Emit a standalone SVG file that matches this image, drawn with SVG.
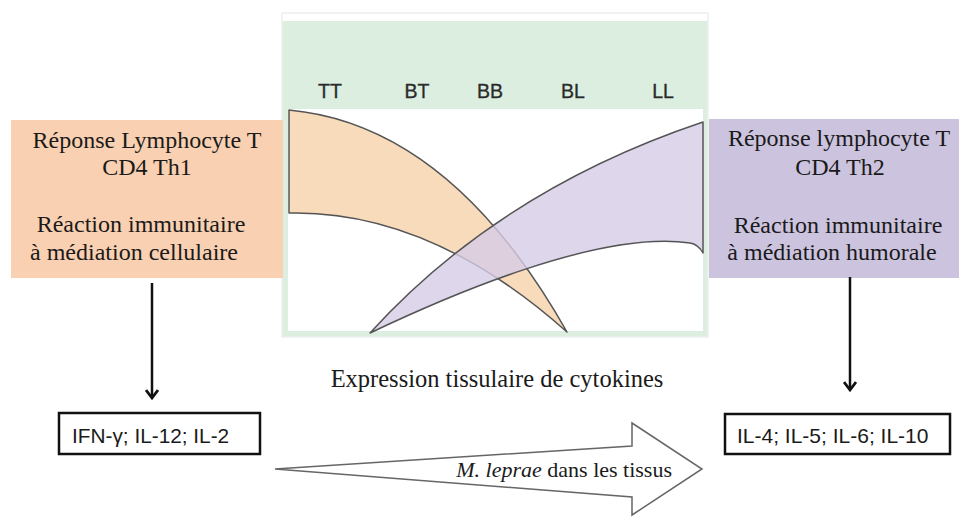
<svg xmlns="http://www.w3.org/2000/svg" width="959" height="517" viewBox="0 0 959 517">
<defs>
<style>
.serif{font-family:"Liberation Serif","Times New Roman",serif;fill:#1a1a1a;}
.sans{font-family:"Liberation Sans",Arial,sans-serif;fill:#1a1a1a;}
.lbl{font-family:"Liberation Sans",Arial,sans-serif;fill:#2a2a2a;stroke:#2a2a2a;stroke-width:0.3;}
.band{stroke:#555;stroke-width:1.5;stroke-linejoin:round;}
.box{fill:#fff;stroke:#111;stroke-width:2.5;}
.conn{stroke:#111;stroke-width:2.5;fill:none;}
</style>
<marker id="ah" markerWidth="14" markerHeight="14" refX="11" refY="7" orient="auto" markerUnits="userSpaceOnUse" viewBox="0 0 14 14">
<path d="M3,1 L11,7 L3,13" fill="none" stroke="#111" stroke-width="2.8"/>
</marker>
</defs>
<rect width="959" height="517" fill="#fff"/>

<g id="panel">
<rect x="282" y="13" width="426" height="324" fill="#fff" stroke="#e6e6e6" stroke-width="1"/>
<rect x="282.5" y="21" width="425" height="315.5" fill="#dbeee0"/>
<rect x="288" y="109" width="415" height="222" fill="#fff"/>
<g class="lbl" font-size="19.5" text-anchor="middle">
<text x="330" y="98">TT</text>
<text x="417" y="98">BT</text>
<text x="490" y="98">BB</text>
<text x="573" y="98">BL</text>
<text x="663" y="98">LL</text>
</g>
<path class="band" fill="#f7dbbb" d="M289,110 Q450,125 567,332 Q430,210 289,213 Z"/>
<path class="band" fill="#d6cce6" fill-opacity="0.8" d="M370,333 Q500,190 703,122 L703,253 Q698,244 690,243 C600,230 450,295 370,333 Z"/>
</g>

<g id="th1">
<rect x="11" y="120" width="272" height="158" fill="#f9d0b1"/>
<g class="serif" font-size="24" text-anchor="middle">
<text x="147" y="148">Réponse Lymphocyte T</text>
<text x="147" y="175">CD4 Th1</text>
<text x="141" y="232">Réaction immunitaire</text>
<text x="134" y="260">à médiation cellulaire</text>
</g>
</g>

<g id="th2">
<rect x="709" y="119" width="250" height="159" fill="#ccc4df"/>
<g class="serif" font-size="24" text-anchor="middle">
<text x="839" y="146">Réponse lymphocyte T</text>
<text x="840" y="175">CD4 Th2</text>
<text x="838" y="233">Réaction immunitaire</text>
<text x="832" y="260">à médiation humorale</text>
</g>
</g>

<g id="cyt1">
<rect class="box" x="59" y="413" width="201" height="41"/>
<text class="sans" x="72" y="443" font-size="20.8">IFN-γ; IL-12; IL-2</text>
</g>

<g id="cyt2">
<rect class="box" x="725" y="414" width="225" height="40"/>
<text class="sans" x="737" y="443" font-size="21">IL-4; IL-5; IL-6; IL-10</text>
</g>

<g id="caption">
<text class="serif" x="497" y="387" font-size="24.5" text-anchor="middle">Expression tissulaire de cytokines</text>
</g>

<g id="bigarrow">
<path d="M275,469 L632,446 L632,423 L702,469 L632,515 L632,497 Z" fill="#fff" stroke="#666" stroke-width="1.5" stroke-linejoin="miter"/>
<text class="serif" x="672" y="477" font-size="22" text-anchor="end"><tspan font-style="italic">M. leprae</tspan> dans les tissus</text>
</g>

<g id="connectors">
<line class="conn" x1="152" y1="283" x2="152" y2="398" marker-end="url(#ah)"/>
<line class="conn" x1="850" y1="277" x2="850" y2="390" marker-end="url(#ah)"/>
</g>
</svg>
